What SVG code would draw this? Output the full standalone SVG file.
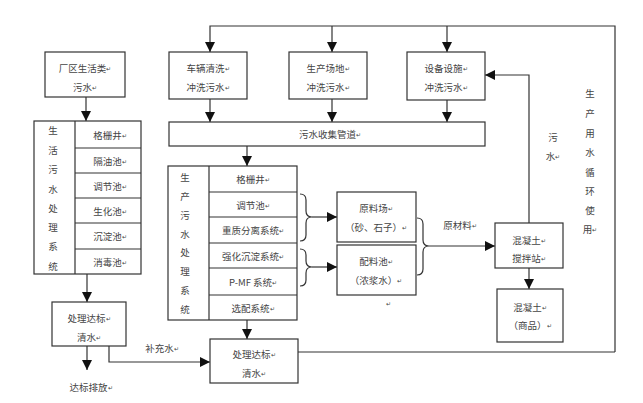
<svg xmlns="http://www.w3.org/2000/svg" width="643" height="403" viewBox="0 0 643 403">
<style>
.b{fill:#fff;stroke:#333;stroke-width:1.2}
.l{fill:none;stroke:#333;stroke-width:1.2}
text{font-family:"Noto Sans CJK SC","Liberation Sans",sans-serif;font-size:9.5px;fill:#444;text-anchor:middle;dominant-baseline:central}
.m{font-size:6px}
</style>
<defs>
<marker id="a" markerUnits="userSpaceOnUse" markerWidth="10" markerHeight="10" viewBox="0 0 10 10" refX="10" refY="5" orient="auto">
<path d="M0,0 L10,5 L0,10 Z" fill="#111"/>
</marker>
</defs>
<rect width="643" height="403" fill="#fff"/>

<g id="connectors">
<path class="l" d="M615,352 L615,26 L210,26 L210,52" marker-end="url(#a)"/>
<path class="l" d="M332,26 L332,52" marker-end="url(#a)"/>
<path class="l" d="M447,26 L447,52" marker-end="url(#a)"/>
<path class="l" d="M298,352 L615,352"/>
<path class="l" d="M210,99 L210,122" marker-end="url(#a)"/>
<path class="l" d="M332,99 L332,122" marker-end="url(#a)"/>
<path class="l" d="M447,100 L447,122" marker-end="url(#a)"/>
<path class="l" d="M247,146 L247,166" marker-end="url(#a)"/>
<path class="l" d="M86,97 L86,121" marker-end="url(#a)"/>
<path class="l" d="M87,274 L87,302" marker-end="url(#a)"/>
<path class="l" d="M87,346 L87,370" marker-end="url(#a)"/>
<path class="l" d="M109,346 L109,362 L210,362" marker-end="url(#a)"/>
<path class="l" d="M247,320 L247,339" marker-end="url(#a)"/>
<path class="l" d="M529,223 L529,75 L485,75" marker-end="url(#a)"/>
<path class="l" d="M529,268 L529,289" marker-end="url(#a)"/>
<path class="l" d="M300,194 Q306,194 306,200 L306,211 Q306,217 312,217 Q306,217 306,223 L306,235 Q306,241 300,241"/>
<path class="l" d="M312,217 L337,217" marker-end="url(#a)"/>
<path class="l" d="M300,249 Q306,249 306,255 L306,261 Q306,267 312,267 Q306,267 306,273 L306,280 Q306,286 300,286"/>
<path class="l" d="M312,267 L337,267" marker-end="url(#a)"/>
<path class="l" d="M417,218 Q423,218 423,224 L423,240 Q423,246 429,246 Q423,246 423,252 L423,269 Q423,275 417,275"/>
<path class="l" d="M429,246 L495,246" marker-end="url(#a)"/>
</g>

<g id="n-life-src">
<rect class="b" x="45" y="52" width="80" height="45"/>
<text x="85" y="68">厂区生活类<tspan class="m">↵</tspan></text>
<text x="85" y="87">污水<tspan class="m">↵</tspan></text>
</g>

<g id="n-life-sys">
<rect class="b" x="34" y="121" width="107" height="153"/>
<path class="l" d="M75,121 L75,274 M75,148 L141,148 M75,173 L141,173 M75,198 L141,198 M75,223 L141,223 M75,249 L141,249"/>
<text x="53" y="130">生</text>
<text x="53" y="150">活</text>
<text x="53" y="169">污</text>
<text x="53" y="189">水</text>
<text x="53" y="208">处</text>
<text x="53" y="227">理</text>
<text x="53" y="246">系</text>
<text x="53" y="266">统</text>
<text x="110" y="134.5">格栅井<tspan class="m">↵</tspan></text>
<text x="110" y="160.5">隔油池<tspan class="m">↵</tspan></text>
<text x="110" y="185.5">调节池<tspan class="m">↵</tspan></text>
<text x="110" y="210.5">生化池<tspan class="m">↵</tspan></text>
<text x="110" y="236">沉淀池<tspan class="m">↵</tspan></text>
<text x="110" y="261.5">消毒池<tspan class="m">↵</tspan></text>
</g>

<g id="n-life-out">
<rect class="b" x="52" y="302" width="74" height="44"/>
<text x="89" y="318">处理达标<tspan class="m">↵</tspan></text>
<text x="89" y="337">清水<tspan class="m">↵</tspan></text>
</g>
<g id="n-discharge"><text x="91" y="387">达标排放<tspan class="m">↵</tspan></text></g>
<g id="n-supply"><text x="162" y="348">补充水<tspan class="m">↵</tspan></text></g>

<g id="n-car">
<rect class="b" x="169" y="52" width="78" height="47"/>
<text x="208" y="68">车辆清洗<tspan class="m">↵</tspan></text>
<text x="208" y="87">冲洗污水<tspan class="m">↵</tspan></text>
</g>
<g id="n-site">
<rect class="b" x="289" y="52" width="78" height="47"/>
<text x="328" y="68">生产场地<tspan class="m">↵</tspan></text>
<text x="328" y="87">冲洗污水<tspan class="m">↵</tspan></text>
</g>
<g id="n-equip">
<rect class="b" x="407" y="52" width="78" height="48"/>
<text x="446" y="68">设备设施<tspan class="m">↵</tspan></text>
<text x="446" y="87">冲洗污水<tspan class="m">↵</tspan></text>
</g>

<g id="n-pipe">
<rect class="b" x="169" y="122" width="316" height="24"/>
<text x="330" y="134">污水收集管道<tspan class="m">↵</tspan></text>
</g>

<g id="n-prod-sys">
<rect class="b" x="168" y="166" width="129" height="154"/>
<path class="l" d="M209,166 L209,320 M209,192 L297,192 M209,217 L297,217 M209,243 L297,243 M209,268 L297,268 M209,295 L297,295"/>
<text x="185" y="177">生</text>
<text x="185" y="196">产</text>
<text x="185" y="215">污</text>
<text x="185" y="234">水</text>
<text x="185" y="252">处</text>
<text x="185" y="271">理</text>
<text x="185" y="290">系</text>
<text x="185" y="309">统</text>
<text x="253" y="179">格栅井<tspan class="m">↵</tspan></text>
<text x="253" y="204.5">调节池<tspan class="m">↵</tspan></text>
<text x="253" y="230">重质分离系统<tspan class="m">↵</tspan></text>
<text x="253" y="255.5">强化沉淀系统<tspan class="m">↵</tspan></text>
<text x="253" y="281.5">P-MF 系统<tspan class="m">↵</tspan></text>
<text x="253" y="307.5">选配系统<tspan class="m">↵</tspan></text>
</g>

<g id="n-prod-out">
<rect class="b" x="210" y="339" width="88" height="44"/>
<text x="254" y="354">处理达标<tspan class="m">↵</tspan></text>
<text x="254" y="373">清水<tspan class="m">↵</tspan></text>
</g>

<g id="n-raw">
<rect class="b" x="337" y="192" width="79" height="50"/>
<text x="376" y="208">原料场<tspan class="m">↵</tspan></text>
<text x="376" y="227">（砂、石子）<tspan class="m">↵</tspan></text>
</g>
<g id="n-mix">
<rect class="b" x="337" y="245" width="79" height="50"/>
<text x="376" y="261">配料池<tspan class="m">↵</tspan></text>
<text x="376" y="280">（浓浆水）<tspan class="m">↵</tspan></text>
<text x="388" y="303" class="m">↵</text>
</g>
<g id="n-rawlabel"><text x="460" y="225">原材料<tspan class="m">↵</tspan></text></g>

<g id="n-plant">
<rect class="b" x="495" y="223" width="68" height="45"/>
<text x="529" y="240">混凝土<tspan class="m">↵</tspan></text>
<text x="529" y="258">搅拌站<tspan class="m">↵</tspan></text>
</g>
<g id="n-product">
<rect class="b" x="497" y="289" width="66" height="53"/>
<text x="530" y="307">混凝土<tspan class="m">↵</tspan></text>
<text x="530" y="325">（商品）<tspan class="m">↵</tspan></text>
</g>

<g id="n-wastelabel">
<text x="553" y="137">污</text>
<text x="553" y="156">水<tspan class="m">↵</tspan></text>
</g>
<g id="n-recycle">
<text x="590" y="93">生</text>
<text x="590" y="113">产</text>
<text x="590" y="133">用</text>
<text x="590" y="152">水</text>
<text x="590" y="172">循</text>
<text x="590" y="191">环</text>
<text x="590" y="210">使</text>
<text x="590" y="229">用<tspan class="m">↵</tspan></text>
</g>
</svg>
